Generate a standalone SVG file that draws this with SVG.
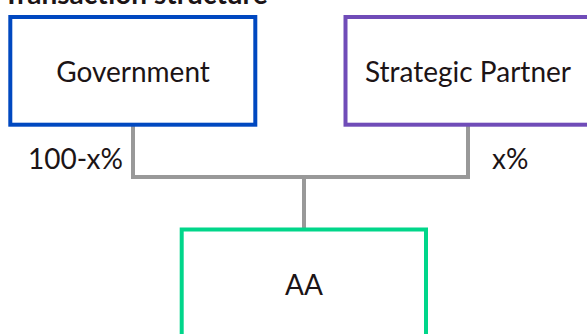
<svg xmlns="http://www.w3.org/2000/svg" width="587" height="334" viewBox="0 0 587 334">
  <style>
    .label { font-family: Lato, "Open Sans", sans-serif; font-size: 28px; fill: #1c1416; }
    .title { font-family: Lato, "Open Sans", sans-serif; font-size: 28px; font-weight: bold; fill: #1c1416; }
    .box { fill: #ffffff; stroke-width: 4; }
    .link { fill: none; stroke: #999999; stroke-width: 4; }
  </style>
  <rect width="587" height="334" fill="#ffffff"/>

  <text class="title" x="3" y="4">Transaction structure</text>

  <g id="connectors">
    <polyline class="link" points="133,126 133,177 468,177 468,126"/>
    <line class="link" x1="304" y1="177" x2="304" y2="228"/>
  </g>

  <g id="government">
    <rect class="box" x="10.3" y="17" width="245" height="107.7" stroke="#0048c0"/>
    <text class="label" x="133" y="82" text-anchor="middle">Government</text>
  </g>

  <g id="strategic-partner">
    <rect class="box" x="345.5" y="17" width="260" height="107.7" stroke="#704cb8"/>
    <text class="label" x="468" y="82" text-anchor="middle">Strategic Partner</text>
  </g>

  <g id="aa">
    <rect class="box" x="181.7" y="229.5" width="244.3" height="130" stroke="#00d68a"/>
    <text class="label" x="304" y="295" text-anchor="middle">AA</text>
  </g>

  <g id="shares">
    <text class="label" x="123" y="169" text-anchor="end">100-x%</text>
    <text class="label" x="492" y="169">x%</text>
  </g>
</svg>
